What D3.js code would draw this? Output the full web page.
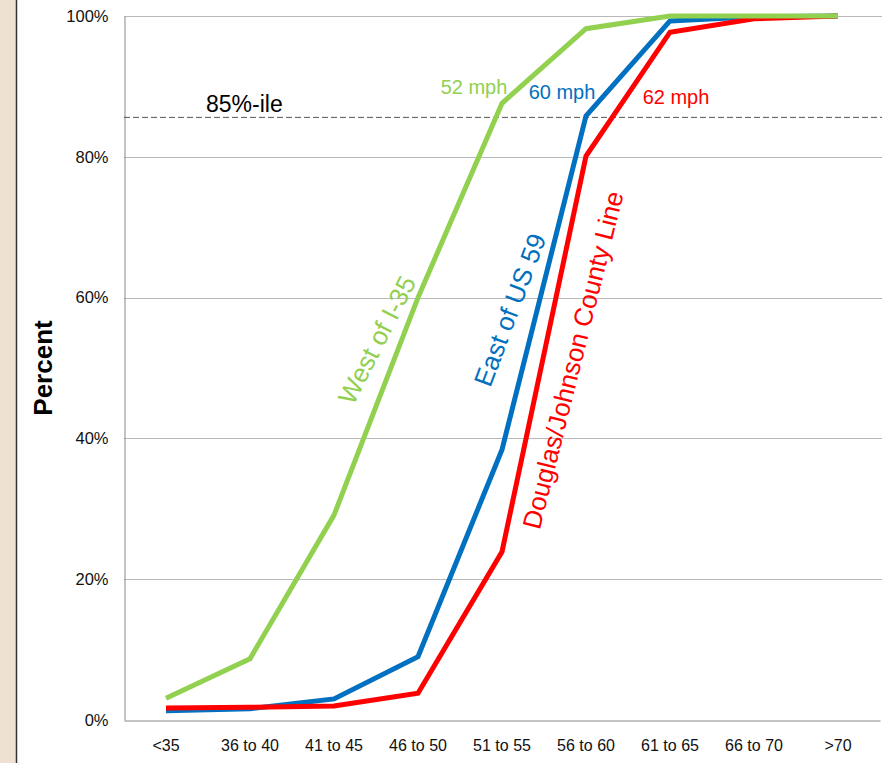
<!DOCTYPE html>
<html>
<head>
<meta charset="utf-8">
<script src="https://cdn.jsdelivr.net/npm/d3@7"></script>
<style>
  body { margin: 0; background: #fff; }
  text { font-family: "Liberation Sans", Arial, sans-serif; }
</style>
</head>
<body>
<div id="chart"></div>
<script>
// speed bins and cumulative percent for each site
var categories = ["<35", "36 to 40", "41 to 45", "46 to 50", "51 to 55", "56 to 60", "61 to 65", "66 to 70", ">70"];
var westI35 = [3.1, 8.7, 29.1, 60.0, 87.6, 98.2, 100, 100, 100];
var eastUS59 = [1.3, 1.6, 3.0, 9.0, 38.4, 85.8, 99.3, 99.9, 100];
var douglasJohnson = [1.7, 1.8, 2.0, 3.8, 23.9, 80.1, 97.7, 99.6, 100];
var yTicks = [0, 20, 40, 60, 80, 100];
var pct85 = 85.6;

var width = 890, height = 763;
var margin = {left: 124, right: 10, top: 16, bottom: 43};

var svg = d3.select("#chart").append("svg")
  .attr("width", width)
  .attr("height", height);

// beige strip on the left edge
svg.append("rect").attr("x", 0).attr("y", 0).attr("width", 16).attr("height", height).attr("fill", "#EFE1D2");
svg.append("line").attr("x1", 16.5).attr("x2", 16.5).attr("y1", 0).attr("y2", height)
  .attr("stroke", "#333").attr("stroke-width", 1.5);

var x = d3.scaleBand().domain(categories).range([margin.left, margin.left + 756]);
var y = d3.scaleLinear().domain([0, 100]).range([height - margin.bottom, margin.top]);

// gridlines
svg.selectAll(".grid")
  .data(yTicks.filter(function(d) { return d > 0; }))
  .enter()
  .append("line")
    .attr("x1", margin.left).attr("x2", margin.left + 758)
    .attr("y1", function(d) { return Math.round(y(d)) + 0.5; })
    .attr("y2", function(d) { return Math.round(y(d)) + 0.5; })
    .attr("stroke", "#b8b8b8").attr("stroke-width", 1);

// axes
var yAxis = d3.axisLeft(y).tickValues(yTicks).tickSize(0).tickPadding(16)
  .tickFormat(function(d) { return d + "%"; });
var gy = svg.append("g").attr("transform", "translate(" + (margin.left + 0.5) + ",0)").call(yAxis);
gy.select(".domain").attr("stroke", "#888");
gy.selectAll("text").attr("font-size", 16.5).attr("fill", "#111");

var xAxis = d3.axisBottom(x).tickSize(0).tickPadding(19);
var gx = svg.append("g").attr("transform", "translate(0," + (Math.round(y(0)) + 0.5) + ")").call(xAxis);
gx.select(".domain").attr("stroke", "#888");
gx.selectAll("text").attr("font-size", 16).attr("fill", "#111");

// 85th percentile line
svg.append("line")
  .attr("x1", margin.left).attr("x2", margin.left + 758)
  .attr("y1", y(pct85)).attr("y2", y(pct85))
  .attr("stroke", "#555").attr("stroke-width", 1).attr("stroke-dasharray", "6,3");
svg.append("text").attr("x", 206).attr("y", 112).attr("font-size", 23).attr("fill", "#000").text("85%-ile");

// series lines
var series = [
  {name: "East of US 59", values: eastUS59, color: "#0070C0"},
  {name: "Douglas/Johnson County Line", values: douglasJohnson, color: "#FF0000"},
  {name: "West of I-35", values: westI35, color: "#92D050"}
];

var line = d3.line()
  .x(function(d, i) { return x(categories[i]) + x.bandwidth() / 2; })
  .y(function(d) { return y(d); });

svg.selectAll(".series")
  .data(series)
  .enter()
  .append("path")
    .attr("d", function(s) { return line(s.values); })
    .attr("fill", "none")
    .attr("stroke", function(s) { return s.color; })
    .attr("stroke-width", 5)
    .attr("stroke-linejoin", "miter");

// speed labels
var speedLabels = [
  {text: "52 mph", x: 474, y: 87, color: "#92D050"},
  {text: "60 mph", x: 562, y: 92, color: "#0070C0"},
  {text: "62 mph", x: 676, y: 97, color: "#FF0000"}
];
svg.selectAll(".speed")
  .data(speedLabels)
  .enter()
  .append("text")
    .attr("x", function(d) { return d.x; })
    .attr("y", function(d) { return d.y; })
    .attr("text-anchor", "middle")
    .attr("dominant-baseline", "central")
    .attr("font-size", 20)
    .attr("fill", function(d) { return d.color; })
    .text(function(d) { return d.text; });

// rotated site labels
var siteLabels = [
  {text: "West of I-35", x: 377, y: 340, angle: -63, color: "#92D050"},
  {text: "East of US 59", x: 510, y: 310, angle: -69.5, color: "#0070C0"},
  {text: "Douglas/Johnson County Line", x: 573, y: 360, angle: -76, color: "#FF0000"}
];
svg.selectAll(".site")
  .data(siteLabels)
  .enter()
  .append("text")
    .attr("transform", function(d) { return "translate(" + d.x + "," + d.y + ") rotate(" + d.angle + ")"; })
    .attr("text-anchor", "middle")
    .attr("dominant-baseline", "central")
    .attr("font-size", 26)
    .attr("fill", function(d) { return d.color; })
    .text(function(d) { return d.text; });

// y axis title
svg.append("text")
  .attr("transform", "translate(43,368) rotate(-90)")
  .attr("text-anchor", "middle")
  .attr("dominant-baseline", "central")
  .attr("font-size", 26)
  .attr("font-weight", "bold")
  .attr("fill", "#000")
  .text("Percent");
</script>
</body>
</html>
